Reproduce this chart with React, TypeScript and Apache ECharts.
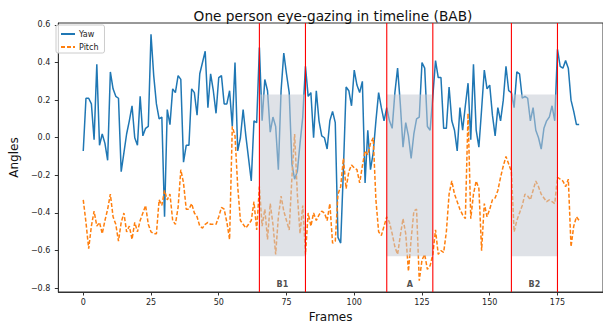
import React, { useEffect, useRef } from 'react';
import * as echarts from 'echarts';

const frames = Array.from({ length: 184 }, (_, i) => i);

const yaw = [
  -0.07, 0.21, 0.21, 0.18, -0.01, 0.39, -0.04, 0.02, -0.03, -0.12,
  0.35, 0.26, 0.22, 0.21, -0.18, -0.08, 0.02, 0.09, 0.17, 0.0,
  -0.04, 0.22, 0.01, 0.05, 0.06, 0.55, 0.33, 0.18, 0.1, 0.11,
  -0.42, 0.15, 0.07, 0.26, 0.24, 0.33, 0.31, -0.13, -0.04, -0.04,
  0.26, 0.24, 0.12, 0.34, 0.4, 0.46, 0.16, 0.34, 0.25, 0.13,
  0.32, 0.33, 0.18, 0.18, 0.25, 0.06, 0.4, -0.07, 0.0, 0.15,
  0.01, -0.11, -0.23, 0.09, 0.08, 0.48, 0.09, 0.31, 0.25, 0.03,
  0.11, 0.06, -0.17, 0.25, 0.45, 0.34, 0.24, -0.14, -0.22, -0.18,
  -0.03, 0.11, 0.38, 0.22, 0.24, 0.0, 0.25, 0.09, 0.01, 0.0,
  -0.06, 0.09, 0.14, 0.08, -0.53, -0.56, -0.17, 0.27, 0.25, 0.17,
  0.36, 0.28, 0.24, 0.3, -0.24, 0.04, -0.17, -0.08, 0.09, 0.24,
  0.16, 0.09, 0.16, 0.09, 0.05, 0.24, 0.37, 0.18, -0.05, 0.08,
  0.01, -0.11, 0.02, 0.1, 0.11, 0.4, 0.37, 0.06, 0.04, 0.22,
  0.41, 0.32, 0.32, 0.05, 0.05, 0.27, 0.09, 0.04, -0.07, 0.16,
  0.04, 0.17, 0.29, -0.01, 0.39, 0.04, -0.05, 0.15, 0.36, 0.26,
  0.28, 0.12, 0.01, 0.16, 0.09, 0.2, 0.38, 0.25, 0.24, 0.16,
  0.35, 0.34, 0.21, 0.22, 0.21, 0.09, 0.16, 0.04, 0.0, -0.06,
  0.05, 0.09, 0.11, 0.17, 0.09, 0.47, 0.38, 0.37, 0.41, 0.37,
  0.2, 0.14, 0.07, 0.07,
];

const pitch = [
  -0.33, -0.45, -0.59, -0.47, -0.39, -0.47, -0.45, -0.51, -0.44, -0.38,
  -0.3, -0.42, -0.46, -0.55, -0.45, -0.4, -0.5, -0.47, -0.54, -0.45,
  -0.5, -0.44, -0.4, -0.36, -0.46, -0.5, -0.51, -0.51, -0.33, -0.36,
  -0.28, -0.33, -0.3, -0.44, -0.46, -0.37, -0.17, -0.24, -0.38, -0.38,
  -0.35, -0.4, -0.42, -0.47, -0.48, -0.46, -0.45, -0.46, -0.46, -0.46,
  -0.42, -0.37, -0.38, -0.45, -0.54, 0.06, 0.01, -0.26, -0.44, -0.46,
  -0.48, -0.46, -0.44, -0.34, -0.49, -0.26, -0.47, -0.38, -0.54, -0.35,
  -0.46, -0.62, -0.42, -0.31, -0.39, -0.44, -0.49, -0.21, 0.02, -0.3,
  -0.51, -0.36, -0.62, -0.4, -0.47, -0.4, -0.44, -0.41, -0.39, -0.4,
  -0.44, -0.35, -0.56, -0.55, -0.3, -0.26, -0.11, -0.27, -0.18, -0.145,
  -0.16, -0.17, -0.24, -0.15, -0.07, -0.09, -0.03, 0.0, -0.33, -0.5,
  -0.52, -0.47, -0.42, -0.45, -0.51, -0.58, -0.62, -0.52, -0.43, -0.51,
  -0.71, -0.54, -0.39, -0.38, -0.76, -0.65, -0.62, -0.7, -0.68, -0.62,
  -0.49, -0.62, -0.6, -0.61, -0.5, -0.3, -0.23, -0.3, -0.34, -0.38,
  -0.41, -0.43, 0.13, -0.43, -0.3, -0.23, -0.27, -0.6, -0.35, -0.42,
  -0.38, -0.33, -0.32, -0.28, -0.21, -0.15, -0.1, -0.14, -0.18, -0.5,
  -0.44, -0.4, -0.36, -0.3, -0.31, -0.33, -0.28, -0.23, -0.26, -0.3,
  -0.32, -0.34, -0.33, -0.34, -0.35, -0.21, -0.22, -0.23, -0.26, -0.22,
  -0.58, -0.47, -0.42, -0.44,
];

const phaseLabels = ['B1', 'A', 'B2'];
const phaseStarts = [65, 112, 158];
const phaseEnds = [82, 129, 175];
const shadeTop = 0.23;
const shadeBottom = -0.63;
const labelY = -0.78;

const yMin = -0.82;
const yMax = 0.61;
const xMin = -9.2;
const xMax = 191.8;
const xTicks = [0, 25, 50, 75, 100, 125, 150, 175];
const yTicks = [-0.8, -0.6, -0.4, -0.2, 0, 0.2, 0.4, 0.6];

const FONT = 'DejaVu Sans';
const fmtY = (v: number) => v.toFixed(1).replace('-', '\u2212');

export default function App() {
  const ref = useRef<HTMLDivElement>(null);

  useEffect(() => {
    if (!ref.current) return;
    const chart = echarts.init(ref.current, undefined, { renderer: 'svg' });
    const vlines = [...phaseStarts, ...phaseEnds];
    const boundSeries = vlines.map((x, k) => ({
      name: 'bound' + k,
      type: 'line',
      data: [
        [x, yMin],
        [x, yMax],
      ],
      symbol: 'none',
      silent: true,
      color: '#ff0000',
      lineStyle: { color: '#ff0000', width: 1.1 },
      z: 6,
    }));
    chart.setOption({
      animation: false,
      textStyle: { fontFamily: FONT },
      title: {
        text: 'One person eye-gazing in timeline (BAB)',
        left: 328,
        top: 4,
        textAlign: 'center',
        textStyle: { fontFamily: FONT, fontSize: 13.7, fontWeight: 'normal', color: '#111' },
      },
      legend: {
        data: ['Yaw', 'Pitch'],
        orient: 'vertical',
        left: 56,
        top: 25,
        itemWidth: 14,
        itemHeight: 8,
        itemGap: 5,
        padding: [5, 6, 2, 4],
        backgroundColor: 'rgba(255,255,255,0.8)',
        borderColor: '#cccccc',
        borderWidth: 1,
        borderRadius: 2,
        itemStyle: { opacity: 0 },
        textStyle: { fontFamily: FONT, fontSize: 8, color: '#222', padding: [0, 0, 0, -1] },
      },
      grid: {
        left: 50,
        top: 23,
        right: -3,
        bottom: 36,
        show: true,
        borderColor: '#333',
        borderWidth: 1,
        backgroundColor: 'transparent',
      },
      xAxis: {
        type: 'value',
        min: xMin,
        max: xMax,
        name: 'Frames',
        nameLocation: 'middle',
        nameGap: 19,
        nameTextStyle: { fontFamily: FONT, fontSize: 12, color: '#111' },
        axisLine: { show: true, onZero: false, lineStyle: { color: '#333', width: 1 } },
        axisTick: { show: true, length: 3.5, customValues: xTicks, lineStyle: { color: '#333' } },
        axisLabel: {
          customValues: xTicks,
          margin: 6,
          fontFamily: FONT,
          fontSize: 8,
          color: '#222',
        },
        splitLine: { show: false },
      },
      yAxis: {
        type: 'value',
        min: yMin,
        max: yMax,
        name: 'Angles',
        nameLocation: 'middle',
        nameRotate: 90,
        nameGap: 32,
        nameTextStyle: { fontFamily: FONT, fontSize: 12, color: '#111' },
        axisLine: { show: true, onZero: false, lineStyle: { color: '#333', width: 1 } },
        axisTick: { show: true, length: 3.5, customValues: yTicks, lineStyle: { color: '#333' } },
        axisLabel: {
          customValues: yTicks,
          margin: 8,
          fontFamily: FONT,
          fontSize: 8,
          color: '#222',
          formatter: (v: number) => fmtY(v),
        },
        splitLine: { show: false },
      },
      series: [
        {
          name: 'Yaw',
          type: 'line',
          data: frames.map((f, i) => [f, yaw[i]]),
          symbol: 'none',
          color: '#1f77b4',
          lineStyle: { color: '#1f77b4', width: 1.5 },
          z: 2,
        },
        {
          name: 'Pitch',
          type: 'line',
          data: frames.map((f, i) => [f, pitch[i]]),
          symbol: 'none',
          color: '#ff7f0e',
          lineStyle: { color: '#ff7f0e', width: 1.5, type: [4, 2] },
          z: 2,
        },
        {
          name: 'shade',
          type: 'line',
          data: [],
          z: 3,
          markArea: {
            silent: true,
            z: 3,
            itemStyle: { color: 'rgba(196,203,211,0.55)' },
            data: phaseStarts.map((s, k) => [
              { xAxis: s, yAxis: shadeTop },
              { xAxis: phaseEnds[k], yAxis: shadeBottom },
            ]),
          },
        },
        ...boundSeries,
        {
          name: 'phase',
          type: 'scatter',
          symbol: 'circle',
          symbolSize: 0,
          itemStyle: { color: 'transparent' },
          z: 7,
          data: phaseLabels.map((l, k) => [(phaseStarts[k] + phaseEnds[k]) / 2, labelY, l]),
          label: {
            show: true,
            position: 'inside',
            formatter: (p: any) => p.data[2],
            fontFamily: FONT,
            fontSize: 8,
            fontWeight: 'bold',
            color: '#222',
          },
        },
      ],
    });
    return () => chart.dispose();
  }, []);

  return (
    <div
      ref={ref}
      style={{ position: 'fixed', left: 0, top: 0, width: 603, height: 328, background: '#fff' }}
    />
  );
}
